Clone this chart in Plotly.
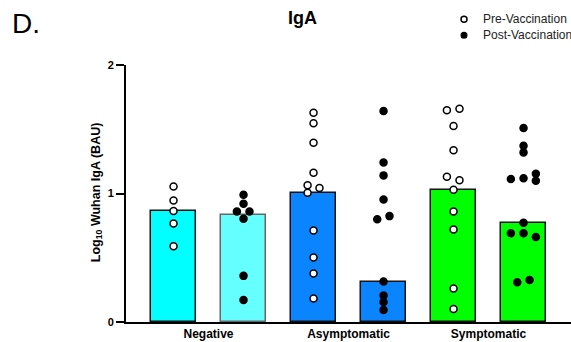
import plotly.graph_objects as go

# ---------------- data ----------------
group_labels = ["Negative", "Asymptomatic", "Symptomatic"]
bar_names = ["Negative Pre", "Negative Post", "Asymptomatic Pre", "Asymptomatic Post",
             "Symptomatic Pre", "Symptomatic Post"]
bar_values = [0.865, 0.833, 1.005, 0.31, 1.026, 0.769]
bar_colors = ["#00FFFF", "#66FFFF", "#0A84FF", "#0A84FF", "#00FF00", "#00FF00"]
bar_edges = ["#111111", "#666666", "#111111", "#111111", "#111111", "#111111"]

neg_pre = [1.055, 0.946, 0.863, 0.767, 0.590]
neg_post = [0.990, 0.920, 0.860, 0.860, 0.803, 0.359, 0.171]
asy_pre = [1.629, 1.546, 1.395, 1.161, 1.065, 1.042, 1.005, 0.712, 0.502, 0.377, 0.182]
asy_post = [1.642, 1.242, 1.141, 0.954, 0.800, 0.824, 0.315, 0.206, 0.156, 0.094]
sym_pre = [1.648, 1.660, 1.525, 1.336, 1.130, 1.104, 1.029, 0.860, 0.720, 0.260, 0.101]
sym_post = [1.510, 1.372, 1.320, 1.154, 1.112, 1.118, 1.099, 0.772, 0.691, 0.691, 0.662, 0.309, 0.327]

# horizontal scatter jitter (category units) for overlapping points
neg_pre_j = [0, 0, 0, 0, 0]
neg_post_j = [0, 0, -0.095, 0.085, 0, 0, 0]
asy_pre_j = [0, 0, 0, 0, -0.085, 0.085, -0.085, 0, 0, 0, 0]
asy_post_j = [0, 0, 0, 0, -0.09, 0.085, 0, 0, 0, 0]
sym_pre_j = [-0.095, 0.085, 0, 0, -0.095, 0.085, 0, 0, 0, 0, 0]
sym_post_j = [0, 0, 0, 0.176, -0.181, 0, 0.176, 0, -0.181, 0, 0.176, -0.09, 0.086]

y_ticks = [0, 1, 2]

FONT = "Arial, Liberation Sans, sans-serif"

positions = list(range(len(bar_values)))

fig = go.Figure()
fig.add_trace(go.Bar(
    x=positions, y=bar_values, width=0.643,
    marker=dict(color=bar_colors, line=dict(color=bar_edges, width=1.5)),
    showlegend=False, hoverinfo="skip",
))

series = [
    (neg_pre, neg_pre_j, 0, True),
    (neg_post, neg_post_j, 1, False),
    (asy_pre, asy_pre_j, 2, True),
    (asy_post, asy_post_j, 3, False),
    (sym_pre, sym_pre_j, 4, True),
    (sym_post, sym_post_j, 5, False),
]
for vals, jit, pos, is_pre in series:
    fig.add_trace(go.Scatter(
        x=[pos + j for j in jit], y=vals, mode="markers",
        marker=dict(size=7, symbol="circle",
                    color="white" if is_pre else "black",
                    line=dict(color="black", width=1.5)),
        showlegend=False, cliponaxis=False,
    ))

fig.update_layout(
    width=571, height=342,
    margin=dict(l=126, r=0, t=65, b=20, autoexpand=False),
    plot_bgcolor="white", paper_bgcolor="white",
    font=dict(family=FONT, color="black"),
    bargap=0,
    xaxis=dict(
        range=[-0.679, 5.678], showline=True, linewidth=2, linecolor="black",
        showgrid=False, zeroline=False, ticks="",
        tickvals=[0.5, 2.5, 4.5], ticktext=group_labels,
        tickfont=dict(family=FONT, size=12, weight="bold", color="black"),
        fixedrange=True,
    ),
    yaxis=dict(
        range=[0, 2], showline=True, linewidth=2, linecolor="black",
        showgrid=False, zeroline=False, ticks="outside", ticklen=8, tickwidth=2,
        tickcolor="black", tickvals=y_ticks, ticktext=[str(t) for t in y_ticks],
        tickfont=dict(family=FONT, size=11, weight="bold", color="black"),
        fixedrange=True,
    ),
    annotations=[
        dict(text="Log<sub>10</sub> Wuhan IgA (BAU)", textangle=-90,
             xref="paper", yref="paper", x=(97 - 126) / 445, y=0.505,
             xanchor="center", yanchor="middle", showarrow=False,
             font=dict(family=FONT, size=12.5, weight="bold", color="black")),
        dict(text="IgA", xref="paper", yref="paper", x=(302 - 126) / 445, y=(321.7 - 18) / 257,
             xanchor="center", yanchor="middle", showarrow=False,
             font=dict(family=FONT, size=18, weight="bold", color="black")),
        dict(text="D.", xref="paper", yref="paper", x=(10 - 126) / 445, y=(321.7 - 23) / 257,
             xanchor="left", yanchor="middle", showarrow=False,
             font=dict(family=FONT, size=28, color="black")),
        dict(text="Pre-Vaccination", xref="paper", yref="paper", x=(481 - 126) / 445,
             y=(321.7 - 19) / 257, xanchor="left", yanchor="middle", showarrow=False,
             font=dict(family=FONT, size=12, color="#222222")),
        dict(text="Post-Vaccination", xref="paper", yref="paper", x=(481 - 126) / 445,
             y=(321.7 - 35) / 257, xanchor="left", yanchor="middle", showarrow=False,
             font=dict(family=FONT, size=12, color="#222222")),
    ],
    shapes=[
        dict(type="circle", xref="paper", yref="paper", xsizemode="pixel", ysizemode="pixel",
             xanchor=(464 - 126) / 445, yanchor=(321.7 - 19) / 257,
             x0=-3, x1=3, y0=-3, y1=3, fillcolor="white", line=dict(color="black", width=1.5)),
        dict(type="circle", xref="paper", yref="paper", xsizemode="pixel", ysizemode="pixel",
             xanchor=(464 - 126) / 445, yanchor=(321.7 - 35) / 257,
             x0=-3.5, x1=3.5, y0=-3.5, y1=3.5, fillcolor="black", line=dict(color="black", width=0)),
    ],
)

fig.write_html(
    "out.html",
    config={"displayModeBar": False},
    post_script="document.body.style.margin='0';document.body.style.padding='0';",
)
